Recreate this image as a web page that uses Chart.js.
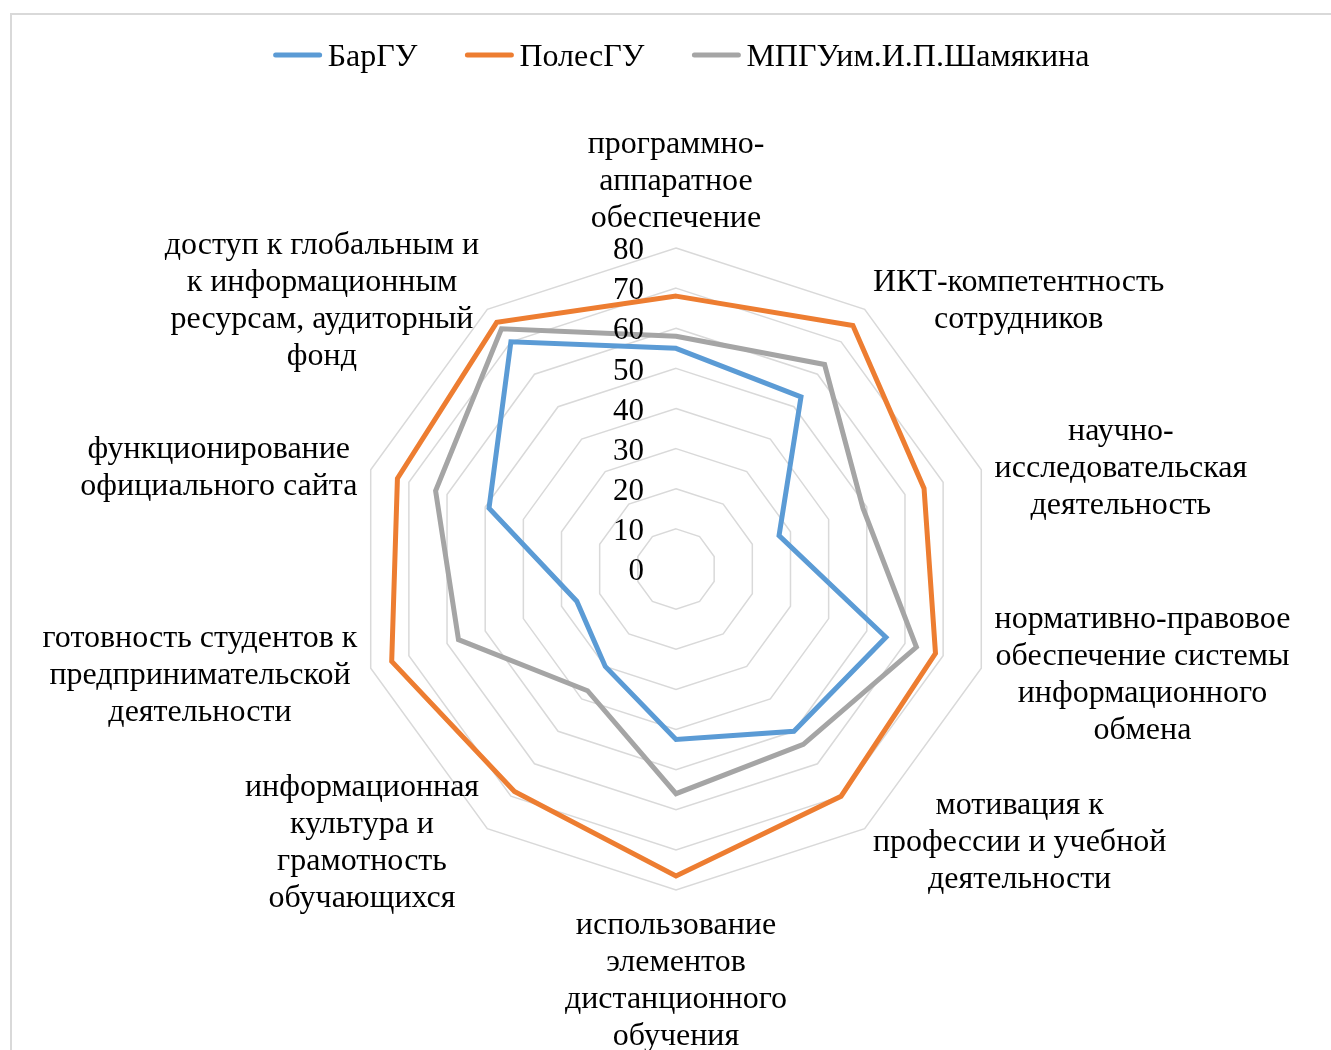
<!DOCTYPE html>
<html>
<head>
<meta charset="utf-8">
<script src="https://cdn.jsdelivr.net/npm/chart.js@4.4.0/dist/chart.umd.min.js"></script>
<style>
  html, body { margin: 0; padding: 0; background: #fff; }
  #wrap { position: relative; width: 1331px; height: 1050px; overflow: hidden; }
  #frame { position: absolute; left: 10px; top: 13px; width: 1400px; height: 1100px; border: 2px solid #d9d9d9; }
  canvas { position: absolute; left: 0; top: 0; }
</style>
</head>
<body>
<div id="wrap">
  <div id="frame"></div>
  <canvas id="radarChart" width="1331" height="1050"></canvas>
</div>
<script>
// Categories (clockwise from the top), split into lines as in the original
const categories = [
  ["программно-", "аппаратное", "обеспечение"],
  ["ИКТ-компетентность", "сотрудников"],
  ["научно-", "исследовательская", "деятельность"],
  ["нормативно-правовое", "обеспечение системы", "информационного", "обмена"],
  ["мотивация к", "профессии и учебной", "деятельности"],
  ["использование", "элементов", "дистанционного", "обучения"],
  ["информационная", "культура и", "грамотность", "обучающихся"],
  ["готовность студентов к", "предпринимательской", "деятельности"],
  ["функционирование", "официального сайта"],
  ["доступ к глобальным и", "к информационным", "ресурсам, аудиторный", "фонд"]
];

// Series values
const barguValues   = [55, 53, 27, 55, 50, 42.5, 30, 26, 49, 70];
const polesguValues = [68, 75, 65, 68, 70, 76.5, 68.5, 74.5, 73, 76];
const mpguValues    = [58, 63, 49, 63, 54, 56, 37.5, 57, 63, 74];

// Radial axis ticks
const tickValues = [0, 10, 20, 30, 40, 50, 60, 70, 80];

const FONT = '"Liberation Serif", "Times New Roman", serif';

// Legend drawn at the top
const legendPlugin = {
  id: "topLegend",
  afterDraw(chart) {
    const ctx = chart.ctx;
    const y = 55;
    ctx.save();
    ctx.font = "32px " + FONT;
    ctx.textBaseline = "middle";
    ctx.textAlign = "left";
    const items = chart.data.datasets.map(ds => ({
      label: ds.label,
      color: ds.borderColor,
      w: ctx.measureText(ds.label).width
    }));
    const gap = 47;
    const total = items.reduce((s, it) => s + 55 + it.w, 0) + gap * (items.length - 1);
    let x = 681 - total / 2;
    items.forEach(it => {
      ctx.strokeStyle = it.color;
      ctx.lineWidth = 5;
      ctx.lineCap = "round";
      ctx.beginPath();
      ctx.moveTo(x + 3, y);
      ctx.lineTo(x + 47, y);
      ctx.stroke();
      ctx.fillStyle = "#000";
      ctx.fillText(it.label, x + 55, y + 3);
      x += 55 + it.w + gap;
    });
    ctx.restore();
  }
};

// Category labels and tick labels, placed from the radial scale
const labelPlugin = {
  id: "radarLabels",
  afterDraw(chart) {
    const scale = chart.scales.r;
    const ctx = chart.ctx;
    ctx.save();
    ctx.fillStyle = "#000";
    ctx.textBaseline = "middle";

    // tick labels, left of the vertical axis
    ctx.font = "31px " + FONT;
    ctx.textAlign = "right";
    tickValues.forEach(v => {
      const d = scale.getDistanceFromCenterForValue(v);
      ctx.fillText(String(v), scale.xCenter - 32, scale.yCenter - d + 3);
    });

    // category labels
    ctx.font = "32px " + FONT;
    ctx.textAlign = "center";
    const lineH = 37;
    const n = categories.length;
    categories.forEach((lines, i) => {
      const p = scale.getPointPosition(i, scale.drawingArea + 14);
      const w = Math.max(...lines.map(l => ctx.measureText(l).width));
      const h = lines.length * lineH;
      const deg = i * 360 / n;
      let cx, top;
      if (deg === 0) { cx = p.x; top = p.y - h; }
      else if (deg === 180) { cx = p.x; top = p.y; }
      else if (deg < 180) { cx = p.x + w / 2; top = p.y - h / 2; }
      else { cx = p.x - w / 2; top = p.y - h / 2; }
      lines.forEach((l, k) => ctx.fillText(l, cx, top + lineH * (k + 0.5) + 3));
    });
    ctx.restore();
  }
};

const ctx = document.getElementById("radarChart").getContext("2d");
const radarChart = new Chart(ctx, {
  type: "radar",
  data: {
    labels: categories.map(c => c.join(" ")),
    datasets: [
      { label: "БарГУ", data: barguValues, borderColor: "#5b9bd5" },
      { label: "ПолесГУ", data: polesguValues, borderColor: "#ed7d31" },
      { label: "МПГУим.И.П.Шамякина", data: mpguValues, borderColor: "#a5a5a5" }
    ].map(ds => Object.assign(ds, {
      borderWidth: 5,
      fill: false,
      pointRadius: 0,
      pointHoverRadius: 0,
      tension: 0
    }))
  },
  options: {
    responsive: false,
    animation: false,
    layout: { padding: { left: 22, right: 0, top: 248, bottom: 160 } },
    plugins: {
      legend: { display: false },
      tooltip: { enabled: false }
    },
    scales: {
      r: {
        min: 0,
        max: 80,
        ticks: { stepSize: 10, display: false },
        grid: { color: "#d9d9d9", lineWidth: 1.5 },
        angleLines: { display: false },
        pointLabels: { display: false }
      }
    }
  },
  plugins: [legendPlugin, labelPlugin]
});
</script>
</body>
</html>
